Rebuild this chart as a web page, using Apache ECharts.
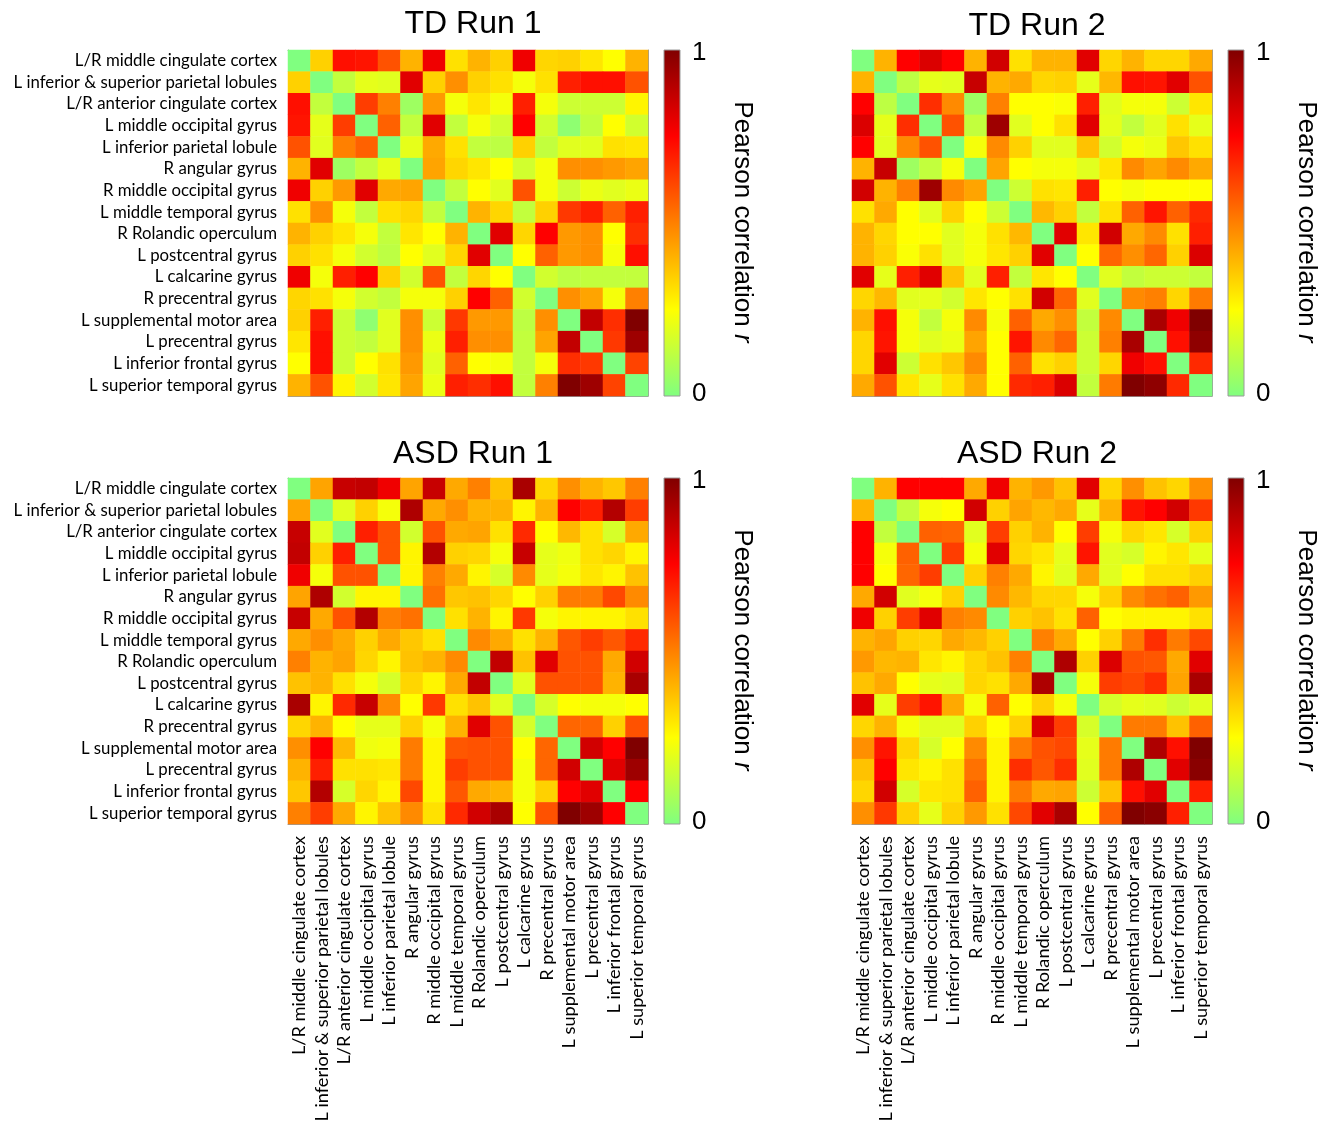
<!DOCTYPE html>
<html>
<head>
<meta charset="utf-8">
<script src="https://cdn.jsdelivr.net/npm/echarts@6/dist/echarts.min.js"></script>
<style>
html,body{margin:0;padding:0;background:#fff;}
#chart{width:1325px;height:1126px;}
</style>
</head>
<body>
<div id="chart"></div>
<script>
// Region labels (rows top->bottom, columns left->right)
const regions = [
  'L/R middle cingulate cortex',
  'L inferior & superior parietal lobules',
  'L/R anterior cingulate cortex',
  'L middle occipital gyrus',
  'L inferior parietal lobule',
  'R angular gyrus',
  'R middle occipital gyrus',
  'L middle temporal gyrus',
  'R Rolandic operculum',
  'L postcentral gyrus',
  'L calcarine gyrus',
  'R precentral gyrus',
  'L supplemental motor area',
  'L precentral gyrus',
  'L inferior frontal gyrus',
  'L superior temporal gyrus'
];

const panelTitles = ['TD Run 1', 'TD Run 2', 'ASD Run 1', 'ASD Run 2'];
const colorbarTicks = ['1', '0'];
const colorbarLabel = 'Pearson correlation';

// Pearson r matrices (row = y region, col = x region)
const tdRun1 = [
  [0,.34,.72,.71,.59,.40,.78,.31,.40,.34,.78,.33,.34,.30,.25,.40],
  [.34,0,.13,.20,.19,.81,.34,.47,.34,.31,.23,.31,.69,.72,.72,.59],
  [.72,.13,0,.63,.50,.06,.45,.23,.30,.23,.69,.23,.15,.15,.15,.27],
  [.71,.20,.63,0,.56,.13,.81,.13,.23,.16,.75,.16,.03,.13,.25,.16],
  [.59,.19,.50,.56,0,.20,.42,.31,.13,.12,.34,.13,.19,.19,.31,.30],
  [.40,.81,.06,.13,.20,0,.43,.33,.30,.25,.16,.23,.47,.47,.45,.43],
  [.78,.34,.45,.81,.42,.43,0,.13,.25,.19,.59,.23,.15,.21,.19,.21],
  [.31,.47,.23,.13,.31,.33,.13,0,.40,.33,.13,.34,.64,.69,.56,.69],
  [.40,.34,.30,.23,.13,.30,.25,.40,0,.81,.33,.75,.45,.47,.25,.66],
  [.34,.31,.23,.16,.12,.25,.19,.33,.81,0,.25,.56,.45,.47,.23,.72],
  [.78,.23,.69,.75,.34,.16,.59,.13,.33,.25,0,.16,.12,.13,.13,.13],
  [.33,.31,.23,.16,.13,.23,.23,.34,.75,.56,.16,0,.47,.43,.23,.50],
  [.34,.69,.15,.03,.19,.47,.15,.64,.45,.45,.12,.47,0,.87,.66,1.0],
  [.30,.72,.15,.13,.19,.47,.21,.69,.47,.47,.13,.43,.87,0,.64,.94],
  [.25,.72,.15,.25,.31,.45,.19,.56,.25,.23,.13,.23,.66,.64,0,.62],
  [.40,.59,.27,.16,.30,.43,.21,.69,.66,.72,.13,.50,1.0,.94,.62,0]
];

const tdRun2 = [
  [0,.40,.75,.82,.75,.40,.84,.31,.40,.40,.81,.33,.40,.33,.33,.42],
  [.40,0,.12,.20,.19,.86,.40,.42,.33,.34,.20,.39,.72,.71,.81,.59],
  [.75,.12,0,.66,.48,.06,.50,.25,.25,.24,.69,.19,.23,.23,.15,.30],
  [.82,.20,.66,0,.59,.13,.94,.19,.25,.31,.81,.20,.13,.19,.31,.20],
  [.75,.19,.48,.59,0,.23,.48,.34,.19,.19,.37,.16,.23,.21,.36,.31],
  [.40,.86,.06,.13,.23,0,.43,.25,.23,.23,.19,.30,.48,.43,.48,.42],
  [.84,.40,.50,.94,.48,.43,0,.15,.31,.30,.69,.25,.23,.25,.25,.25],
  [.31,.42,.25,.19,.34,.25,.15,0,.39,.34,.13,.31,.56,.71,.56,.67],
  [.40,.33,.25,.25,.19,.23,.31,.39,0,.81,.30,.84,.42,.48,.31,.69],
  [.40,.34,.24,.31,.19,.23,.30,.34,.81,0,.25,.55,.47,.55,.34,.82],
  [.81,.20,.69,.81,.37,.19,.69,.13,.30,.25,0,.19,.13,.15,.15,.13],
  [.33,.39,.19,.20,.16,.30,.25,.31,.84,.55,.19,0,.48,.50,.33,.51],
  [.40,.72,.23,.13,.23,.48,.23,.56,.42,.47,.13,.48,0,.92,.78,1.0],
  [.33,.71,.23,.19,.21,.43,.25,.71,.48,.55,.15,.50,.92,0,.72,.97],
  [.33,.81,.15,.31,.36,.48,.25,.56,.31,.34,.15,.33,.78,.72,0,.67],
  [.42,.59,.30,.20,.31,.42,.25,.67,.69,.82,.13,.51,1.0,.97,.67,0]
];

const asdRun1 = [
  [0,.43,.86,.87,.78,.43,.86,.42,.50,.37,.92,.33,.47,.40,.36,.50],
  [.43,0,.19,.34,.23,.91,.42,.47,.40,.40,.27,.40,.75,.69,.90,.63],
  [.86,.19,0,.69,.59,.16,.59,.42,.43,.31,.67,.25,.39,.31,.17,.42],
  [.87,.34,.69,0,.59,.27,.90,.34,.33,.23,.86,.20,.22,.31,.33,.27],
  [.78,.23,.59,.59,0,.27,.50,.42,.27,.17,.48,.20,.23,.30,.27,.37],
  [.43,.91,.16,.27,.27,0,.53,.36,.37,.33,.25,.34,.51,.51,.61,.48],
  [.86,.42,.59,.90,.50,.53,0,.31,.40,.27,.64,.23,.27,.27,.27,.31],
  [.42,.47,.42,.34,.42,.36,.31,0,.48,.42,.31,.40,.58,.63,.58,.67],
  [.50,.40,.43,.33,.27,.37,.40,.48,0,.87,.37,.81,.59,.59,.42,.84],
  [.37,.40,.31,.23,.17,.33,.27,.42,.87,0,.19,.59,.59,.59,.40,.92],
  [.92,.27,.67,.86,.48,.25,.64,.31,.37,.19,0,.17,.25,.23,.23,.25],
  [.33,.40,.25,.20,.20,.34,.23,.40,.81,.59,.17,0,.55,.55,.34,.59],
  [.47,.75,.39,.22,.23,.51,.27,.58,.59,.59,.25,.55,0,.84,.75,1.0],
  [.40,.69,.31,.31,.30,.51,.27,.63,.59,.59,.23,.55,.84,0,.81,.94],
  [.36,.90,.17,.33,.27,.61,.27,.58,.42,.40,.23,.34,.75,.81,0,.75],
  [.50,.63,.42,.27,.37,.48,.31,.67,.84,.92,.25,.59,1.0,.94,.75,0]
];

const asdRun2 = [
  [0,.40,.75,.75,.75,.42,.78,.40,.45,.37,.81,.33,.47,.37,.33,.47],
  [.40,0,.13,.23,.25,.84,.34,.43,.39,.42,.20,.40,.71,.75,.84,.64],
  [.75,.13,0,.56,.55,.19,.63,.34,.40,.25,.63,.23,.33,.30,.17,.34],
  [.75,.23,.56,0,.63,.23,.81,.33,.30,.20,.71,.19,.17,.27,.30,.20],
  [.75,.25,.55,.63,0,.34,.50,.42,.27,.19,.42,.19,.25,.31,.31,.34],
  [.42,.84,.19,.23,.34,0,.48,.39,.33,.33,.23,.34,.48,.53,.56,.45],
  [.78,.34,.63,.81,.50,.48,0,.34,.37,.31,.56,.25,.27,.27,.27,.31],
  [.40,.43,.34,.33,.42,.39,.34,0,.50,.42,.25,.34,.51,.66,.51,.61],
  [.45,.39,.40,.30,.27,.33,.37,.50,0,.91,.34,.82,.59,.58,.42,.81],
  [.37,.42,.25,.20,.19,.33,.31,.42,.91,0,.23,.63,.61,.66,.43,.92],
  [.81,.20,.63,.71,.42,.23,.56,.25,.34,.23,0,.17,.20,.19,.15,.19],
  [.33,.40,.23,.19,.19,.34,.25,.34,.82,.63,.17,0,.51,.51,.37,.56],
  [.47,.71,.33,.17,.25,.48,.27,.51,.59,.61,.20,.51,0,.91,.72,1.0],
  [.37,.75,.30,.27,.31,.53,.27,.66,.58,.66,.19,.51,.91,0,.81,.98],
  [.33,.84,.17,.30,.31,.56,.27,.51,.42,.43,.15,.37,.72,.81,0,.69],
  [.47,.64,.34,.20,.34,.45,.31,.61,.81,.92,.25,.56,1.0,.98,.69,0]
];

const matrices = [tdRun1, tdRun2, asdRun1, asdRun2];

// ---------- layout (not data) ----------
const FONT = '"Liberation Sans", Arial, Helvetica, sans-serif';
const LABEL_FONT = 'Lato, "Open Sans", sans-serif';

// size the tick-label font so the longest label matches the reference's width
function fitFontSize(text, family, targetWidth) {
  const ctx = document.createElement('canvas').getContext('2d');
  ctx.font = '20px ' + family;
  const w = ctx.measureText(text).width;
  return Math.round(20 * targetWidth / w * 10) / 10;
}
const longest = regions[1];
const yLabelSize = fitFontSize(longest, LABEL_FONT, 264);
const xLabelSize = fitFontSize(longest, LABEL_FONT, 285);

const GW = 360, GH = 346;
const layout = [
  {left: 288, top: 50, titleY: 22, xLabels: false, yLabels: true},
  {left: 852, top: 50, titleY: 24, xLabels: false, yLabels: false},
  {left: 288, top: 478, titleY: 452, xLabels: true, yLabels: true},
  {left: 852, top: 478, titleY: 452, xLabels: true, yLabels: false}
];
const cmap = ['#80ff80', '#ffff00', '#ff8000', '#ff0000', '#800000'];

const grids = [], xAxes = [], yAxes = [], series = [], titles = [], graphics = [];
const axisLineStyle = {color: '#9a9a9a', width: 1};
const tickStyle = {show: true, inside: true, length: 4, alignWithLabel: true, lineStyle: {color: '#555', width: 1}};

layout.forEach((p, g) => {
  grids.push({left: p.left, top: p.top, width: GW, height: GH, containLabel: false});
  xAxes.push({
    type: 'category', gridIndex: g, data: regions, position: 'bottom',
    axisLine: {show: true, lineStyle: axisLineStyle}, axisTick: tickStyle,
    axisLabel: {show: p.xLabels, rotate: 90, interval: 0, fontSize: xLabelSize, color: '#000', fontFamily: LABEL_FONT, margin: 12},
    splitLine: {show: false}
  });
  xAxes.push({
    type: 'category', gridIndex: g, data: regions, position: 'top',
    axisLine: {show: true, lineStyle: axisLineStyle}, axisTick: tickStyle,
    axisLabel: {show: false}, splitLine: {show: false}
  });
  yAxes.push({
    type: 'category', gridIndex: g, data: regions, inverse: true, position: 'left',
    axisLine: {show: true, lineStyle: axisLineStyle}, axisTick: tickStyle,
    axisLabel: {show: p.yLabels, interval: 0, fontSize: yLabelSize, color: '#000', fontFamily: LABEL_FONT, margin: 11},
    splitLine: {show: false}
  });
  yAxes.push({
    type: 'category', gridIndex: g, data: regions, inverse: true, position: 'right',
    axisLine: {show: true, lineStyle: axisLineStyle}, axisTick: tickStyle,
    axisLabel: {show: false}, splitLine: {show: false}
  });

  const m = matrices[g];
  const data = [];
  for (let r = 0; r < regions.length; r++)
    for (let c = 0; c < regions.length; c++)
      data.push([c, r, m[r][c]]);
  series.push({
    type: 'heatmap', name: panelTitles[g], xAxisIndex: g * 2, yAxisIndex: g * 2,
    data: data, progressive: 0, emphasis: {disabled: true}, animation: false
  });

  titles.push({
    text: panelTitles[g], left: p.left + GW / 2, top: p.titleY - 19, textAlign: 'center',
    textStyle: {fontSize: 32, fontWeight: 'normal', color: '#000', fontFamily: FONT}
  });

  const cbx = p.left + GW + 16;
  graphics.push({
    type: 'rect', shape: {x: cbx, y: p.top, width: 16, height: GH}, silent: true,
    style: {
      fill: {type: 'linear', x: 0, y: 0, x2: 0, y2: 1, colorStops: [
        {offset: 0, color: cmap[4]}, {offset: 0.25, color: cmap[3]},
        {offset: 0.5, color: cmap[2]}, {offset: 0.75, color: cmap[1]}, {offset: 1, color: cmap[0]}
      ]},
      stroke: '#9a9a9a', lineWidth: 1
    }
  });
  graphics.push({
    type: 'text', x: cbx + 28, y: p.top + 3, silent: true,
    style: {text: colorbarTicks[0], fontSize: 26, fontFamily: FONT, fill: '#000', textVerticalAlign: 'middle'}
  });
  graphics.push({
    type: 'text', x: cbx + 28, y: p.top + GH - 2, silent: true,
    style: {text: colorbarTicks[1], fontSize: 26, fontFamily: FONT, fill: '#000', textVerticalAlign: 'middle'}
  });
  graphics.push({
    type: 'text', x: cbx + 78, y: p.top + 172, rotation: -Math.PI / 2, silent: true,
    style: {
      text: colorbarLabel + ' {i|r}', fontSize: 26, fontFamily: FONT, fill: '#000',
      textAlign: 'center', textVerticalAlign: 'middle',
      rich: {i: {fontSize: 26, fontStyle: 'italic', fontFamily: FONT, fill: '#000'}}
    }
  });
});

const chart = echarts.init(document.getElementById('chart'), null, {renderer: 'canvas'});
chart.setOption({
  animation: false,
  backgroundColor: '#fff',
  title: titles,
  grid: grids,
  xAxis: xAxes,
  yAxis: yAxes,
  visualMap: {
    show: false, type: 'continuous', min: 0, max: 1, seriesIndex: [0, 1, 2, 3],
    inRange: {color: cmap}
  },
  series: series,
  graphic: graphics
});
</script>
</body>
</html>
